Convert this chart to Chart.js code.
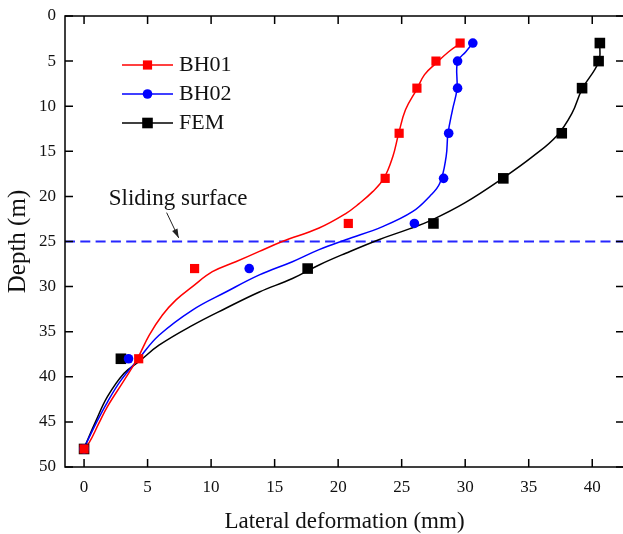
<!DOCTYPE html>
<html>
<head>
<meta charset="utf-8">
<script src="https://cdn.jsdelivr.net/npm/chart.js@4/dist/chart.umd.min.js"></script>
<style>
  html, body { margin: 0; padding: 0; overflow: hidden; background: #fff; }
  #wrap { width: 626px; height: 534px; }
</style>
</head>
<body>
<div id="wrap"><canvas id="c" width="626" height="534"></canvas></div>
<script>
// Inclinometer reading depths (m)
const depths = [3, 5, 8, 13, 18, 23, 28, 38, 48];
// Lateral deformation at each depth (mm)
const bh01 = [29.6, 27.7, 26.2, 24.8, 23.7, 20.8, 8.7, 4.3, 0];
const bh02 = [30.6, 29.4, 29.4, 28.7, 28.3, 26.0, 13.0, 3.5, 0];
const fem  = [40.6, 40.5, 39.2, 37.6, 33.0, 27.5, 17.6, 2.9, 0];

// Fitted deformation profiles (mm) with their depths (m)
const bh01FitX     = [0.0, 0.4, 1.15, 1.84, 3.15, 4.2, 5.12, 6.17, 7.22, 8.53, 10.1, 11.94, 13.8, 15.6, 18.5, 20.6, 21.65, 22.7, 23.6, 24.3, 24.75, 25.3, 26.2, 26.8, 27.74, 28.7, 29.66];
const bh01FitDepth = [47.9, 47.3, 45.2, 43.3, 40.4, 38.0, 35.4, 33.15, 31.5, 30.0, 28.35, 27.24, 26.1, 25.0, 23.5, 21.9, 20.8, 19.5, 18.0, 15.6, 13.1, 10.4, 8.1, 6.5, 5.2, 3.96, 3.0];
const bh02FitX     = [0.0, 1.0, 1.84, 2.9, 4.33, 5.9, 8.53, 11.16, 13.8, 16.4, 18.5, 20.6, 23.5, 25.85, 27.2, 28.0, 28.5, 28.64, 29.0, 29.35, 29.4, 30.05, 30.6];
const bh02FitDepth = [47.9, 45.0, 42.8, 40.4, 37.95, 35.4, 32.6, 30.6, 28.7, 27.24, 25.9, 24.8, 23.35, 21.7, 20.0, 18.55, 15.6, 13.1, 10.4, 8.1, 5.06, 3.96, 3.0];
const femFitX      = [0.0, 0.9, 1.84, 3.15, 4.33, 5.9, 8.53, 11.16, 13.8, 16.4, 18.5, 20.6, 23.2, 25.6, 27.4, 30.0, 32.95, 35.3, 37.2, 38.4, 39.2, 40.5, 40.6];
const femFitDepth  = [47.9, 45.0, 42.2, 39.6, 38.3, 36.5, 34.3, 32.4, 30.6, 29.1, 27.6, 26.3, 24.8, 23.6, 22.6, 20.7, 18.0, 15.6, 13.3, 10.8, 8.1, 5.1, 3.0];

// Depth of the sliding surface (m)
const slidingDepth = 25;
const slidingLabel = 'Sliding surface';

// Axis ticks and range
const xTicks = [0, 5, 10, 15, 20, 25, 30, 35, 40];
const yTicks = [0, 5, 10, 15, 20, 25, 30, 35, 40, 45, 50];
const xRange = [-1.5, 42.5];
const yRange = [0, 50];

const seriesNames = ['BH01', 'BH02', 'FEM'];

const serif = "'Liberation Serif', 'Times New Roman', serif";

const styles = [
  { color: '#ff0000', shape: 'rect',   radius: 6.5 },
  { color: '#0000ff', shape: 'circle', radius: 4.8 },
  { color: '#000000', shape: 'rect',   radius: 7.5 }
];

const toPoints = (xs, ys) => xs.map((x, i) => ({ x: x, y: ys[i] }));

const measured = [bh01, bh02, fem];
const fits = [[bh01FitX, bh01FitDepth], [bh02FitX, bh02FitDepth], [femFitX, femFitDepth]];

const datasets = [];
seriesNames.forEach((name, i) => {
  const st = styles[i];
  datasets.push({
    label: name,
    data: toPoints(measured[i], depths),
    showLine: false,
    pointStyle: st.shape,
    pointRadius: st.radius,
    pointHoverRadius: st.radius,
    pointBackgroundColor: st.color,
    pointBorderWidth: 0,
    borderColor: st.color,
    order: 0
  });
  datasets.push({
    label: name + ' fit',
    data: toPoints(fits[i][0], fits[i][1]),
    showLine: true,
    pointRadius: 0,
    borderColor: st.color,
    borderWidth: 1.5,
    tension: 0.4,
    order: 1
  });
});
datasets.push({
  label: slidingLabel,
  data: [{ x: xRange[0], y: slidingDepth }, { x: xRange[1], y: slidingDepth }],
  showLine: true,
  pointRadius: 0,
  borderColor: '#2626ff',
  borderWidth: 2,
  borderDash: [10, 5.3],
  order: 2
});

// Frame with inward ticks, legend and sliding surface label
const decorations = {
  id: 'decorations',
  afterDraw(chart) {
    const { ctx, chartArea: a, scales: { x, y } } = chart;
    ctx.save();
    // frame
    ctx.strokeStyle = '#000';
    ctx.lineWidth = 1.5;
    ctx.strokeRect(a.left, a.top, a.right - a.left, a.bottom - a.top);
    // inward tick marks on all four sides
    const tl = 8;
    ctx.beginPath();
    xTicks.forEach(v => {
      const px = x.getPixelForValue(v);
      ctx.moveTo(px, a.bottom); ctx.lineTo(px, a.bottom - tl);
      ctx.moveTo(px, a.top); ctx.lineTo(px, a.top + tl);
    });
    yTicks.forEach(v => {
      const py = y.getPixelForValue(v);
      ctx.moveTo(a.left, py); ctx.lineTo(a.left + tl, py);
      ctx.moveTo(a.right, py); ctx.lineTo(a.right - tl, py);
    });
    ctx.stroke();

    // legend
    ctx.font = '22px ' + serif;
    ctx.textBaseline = 'middle';
    ctx.textAlign = 'left';
    seriesNames.forEach((name, i) => {
      const st = styles[i];
      const ly = a.top + 49 + i * 29;
      const x0 = a.left + 57, x1 = a.left + 108;
      ctx.strokeStyle = st.color;
      ctx.lineWidth = 1.5;
      ctx.beginPath(); ctx.moveTo(x0, ly); ctx.lineTo(x1, ly); ctx.stroke();
      ctx.fillStyle = st.color;
      const cx = (x0 + x1) / 2;
      if (st.shape === 'circle') {
        ctx.beginPath(); ctx.arc(cx, ly, st.radius, 0, Math.PI * 2); ctx.fill();
      } else {
        const s = st.radius * Math.SQRT1_2;
        ctx.fillRect(cx - s, ly - s, 2 * s, 2 * s);
      }
      ctx.fillStyle = '#111';
      ctx.fillText(name, x1 + 6, ly);
    });

    // sliding surface label with arrow
    ctx.fillStyle = '#111';
    ctx.textAlign = 'center';
    ctx.font = '23px ' + serif;
    ctx.fillText(slidingLabel, x.getPixelForValue(7.4), y.getPixelForValue(20.3));
    const ax0 = x.getPixelForValue(6.5), ay0 = y.getPixelForValue(21.8);
    const ax1 = x.getPixelForValue(7.45), ay1 = y.getPixelForValue(24.6);
    ctx.strokeStyle = '#222';
    ctx.lineWidth = 1;
    ctx.beginPath(); ctx.moveTo(ax0, ay0); ctx.lineTo(ax1, ay1); ctx.stroke();
    const ang = Math.atan2(ay1 - ay0, ax1 - ax0);
    const hl = 9, hw = 3;
    ctx.beginPath();
    ctx.moveTo(ax1, ay1);
    ctx.lineTo(ax1 - hl * Math.cos(ang) + hw * Math.sin(ang), ay1 - hl * Math.sin(ang) - hw * Math.cos(ang));
    ctx.lineTo(ax1 - hl * Math.cos(ang) - hw * Math.sin(ang), ay1 - hl * Math.sin(ang) + hw * Math.cos(ang));
    ctx.closePath();
    ctx.fillStyle = '#222';
    ctx.fill();
    ctx.restore();
  }
};

new Chart(document.getElementById('c'), {
  type: 'scatter',
  data: { datasets: datasets },
  options: {
    responsive: false,
    animation: false,
    events: [],
    layout: { autoPadding: false, padding: { left: 0, right: 2, top: 16, bottom: 0 } },
    plugins: { legend: { display: false }, tooltip: { enabled: false } },
    scales: {
      x: {
        type: 'linear',
        position: 'bottom',
        min: xRange[0],
        max: xRange[1],
        afterBuildTicks: s => { s.ticks = xTicks.map(v => ({ value: v })); },
        afterFit: s => { s.height = 67; s.paddingLeft = 0; s.paddingRight = 0; },
        grid: { display: false, drawTicks: false },
        border: { display: false },
        ticks: { color: '#111', padding: 10, font: { family: serif, size: 17 }, maxRotation: 0, callback: v => String(v) },
        title: { display: true, text: 'Lateral deformation (mm)', color: '#111', font: { family: serif, size: 23 }, padding: { top: 0, bottom: -2 } }
      },
      y: {
        type: 'linear',
        reverse: true,
        min: yRange[0],
        max: yRange[1],
        afterBuildTicks: s => { s.ticks = yTicks.map(v => ({ value: v })); },
        afterFit: s => { s.width = 65; s.paddingTop = 0; s.paddingBottom = 0; },
        grid: { display: false, drawTicks: false },
        border: { display: false },
        ticks: { color: '#111', padding: 9, font: { family: serif, size: 17 }, callback: v => String(v) },
        title: { display: true, text: 'Depth (m)', color: '#111', font: { family: serif, size: 25 }, padding: { top: 3, bottom: 0 } }
      }
    }
  },
  plugins: [decorations]
});
</script>
</body>
</html>
